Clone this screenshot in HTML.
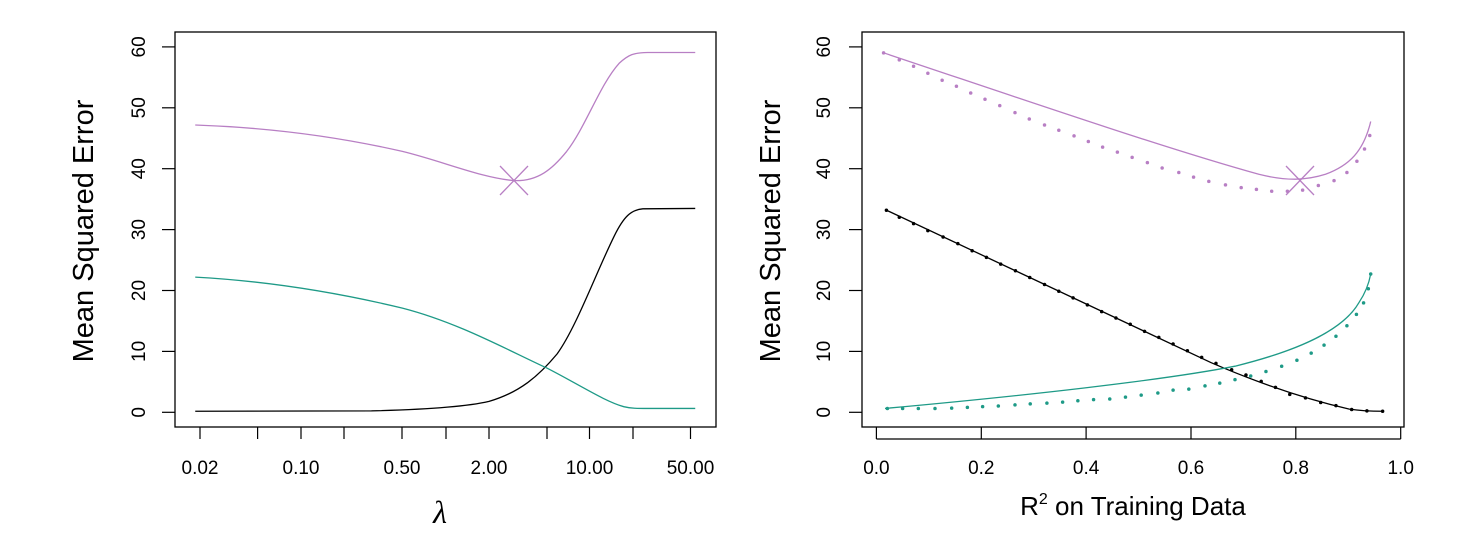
<!DOCTYPE html>
<html><head><meta charset="utf-8"><style>
html,body{margin:0;padding:0;background:#fff}
svg{display:block}
text{font-family:"Liberation Sans",sans-serif;fill:#000}
.t{font-size:19px}
.lab{font-size:29px}
.ns{vector-effect:non-scaling-stroke;fill:none;stroke-linejoin:round}
</style></head><body>
<svg width="1470" height="553" viewBox="0 0 1470 553">
<!-- LEFT PANEL -->
<rect x="175" y="32" width="541" height="395" fill="none" stroke="#000" stroke-width="1.3"/>
<g stroke="#000" stroke-width="1.2">
<line x1="162" y1="412.3" x2="175" y2="412.3"/><line x1="162" y1="351.4" x2="175" y2="351.4"/>
<line x1="162" y1="290.5" x2="175" y2="290.5"/><line x1="162" y1="229.6" x2="175" y2="229.6"/>
<line x1="162" y1="168.7" x2="175" y2="168.7"/><line x1="162" y1="107.8" x2="175" y2="107.8"/>
<line x1="162" y1="46.9" x2="175" y2="46.9"/>
<line x1="200" y1="427" x2="200" y2="439"/><line x1="257.6" y1="427" x2="257.6" y2="439"/>
<line x1="301" y1="427" x2="301" y2="439"/><line x1="344" y1="427" x2="344" y2="439"/>
<line x1="402" y1="427" x2="402" y2="439"/><line x1="446" y1="427" x2="446" y2="439"/>
<line x1="489" y1="427" x2="489" y2="439"/><line x1="547" y1="427" x2="547" y2="439"/>
<line x1="589.5" y1="427" x2="589.5" y2="439"/><line x1="633" y1="427" x2="633" y2="439"/>
<line x1="690.5" y1="427" x2="690.5" y2="439"/>
</g>
<g class="t" text-anchor="middle">
<text transform="translate(145,412.3) rotate(-90)">0</text>
<text transform="translate(145,351.4) rotate(-90)">10</text>
<text transform="translate(145,290.5) rotate(-90)">20</text>
<text transform="translate(145,229.6) rotate(-90)">30</text>
<text transform="translate(145,168.7) rotate(-90)">40</text>
<text transform="translate(145,107.8) rotate(-90)">50</text>
<text transform="translate(145,46.9) rotate(-90)">60</text>
<text x="200" y="474">0.02</text><text x="301" y="474">0.10</text>
<text x="402" y="474">0.50</text><text x="489" y="474">2.00</text>
<text x="589.5" y="474">10.00</text><text x="690.5" y="474">50.00</text>
</g>
<text class="lab" text-anchor="middle" transform="translate(93,231) rotate(-90)">Mean Squared Error</text>
<text x="440" y="523" text-anchor="middle" style="font-family:'Liberation Serif',serif;font-style:italic;font-size:32px">λ</text>
<g transform="scale(0.47619,0.35211)">
<path class="ns" stroke="#b87fc4" stroke-width="1.3" d="M410,355 C560,362 700,385 845,430 C930,458 1010,505 1080,513 C1130,515 1160,480 1190,430 C1230,360 1260,240 1300,180 C1320,155 1330,150 1360,149 L1460,149"/>
<path class="ns" stroke="#000" stroke-width="1.3" d="M410,1168 L780,1167 C900,1163 980,1155 1027,1140 C1090,1115 1130,1070 1170,1005 C1210,930 1250,780 1290,670 C1310,615 1325,596 1350,593 L1460,592"/>
<path class="ns" stroke="#1e9a87" stroke-width="1.3" d="M410,787 C560,798 700,828 845,875 C960,915 1060,990 1148,1045 C1220,1095 1270,1140 1310,1155 C1325,1160 1340,1160 1360,1160 L1460,1160"/>
</g>
<g stroke="#b87fc4" stroke-width="1.3"><line x1="500" y1="166" x2="528" y2="195"/><line x1="500" y1="195" x2="528" y2="166"/></g>

<!-- RIGHT PANEL -->
<rect x="862" y="32" width="542" height="395" fill="none" stroke="#000" stroke-width="1.3"/>
<g stroke="#000" stroke-width="1.2">
<line x1="849" y1="412.3" x2="862" y2="412.3"/><line x1="849" y1="351.4" x2="862" y2="351.4"/>
<line x1="849" y1="290.5" x2="862" y2="290.5"/><line x1="849" y1="229.6" x2="862" y2="229.6"/>
<line x1="849" y1="168.7" x2="862" y2="168.7"/><line x1="849" y1="107.8" x2="862" y2="107.8"/>
<line x1="849" y1="46.9" x2="862" y2="46.9"/>
<line x1="876.4" y1="439" x2="1400.7" y2="439"/>
<line x1="876.4" y1="427" x2="876.4" y2="439"/><line x1="981.3" y1="427" x2="981.3" y2="439"/>
<line x1="1086.1" y1="427" x2="1086.1" y2="439"/><line x1="1191" y1="427" x2="1191" y2="439"/>
<line x1="1295.8" y1="427" x2="1295.8" y2="439"/><line x1="1400.7" y1="427" x2="1400.7" y2="439"/>
</g>
<g class="t" text-anchor="middle">
<text transform="translate(830,412.3) rotate(-90)">0</text>
<text transform="translate(830,351.4) rotate(-90)">10</text>
<text transform="translate(830,290.5) rotate(-90)">20</text>
<text transform="translate(830,229.6) rotate(-90)">30</text>
<text transform="translate(830,168.7) rotate(-90)">40</text>
<text transform="translate(830,107.8) rotate(-90)">50</text>
<text transform="translate(830,46.9) rotate(-90)">60</text>
<text x="876.4" y="474">0.0</text><text x="981.3" y="474">0.2</text>
<text x="1086.1" y="474">0.4</text><text x="1191" y="474">0.6</text>
<text x="1295.8" y="474">0.8</text><text x="1400.7" y="474">1.0</text>
</g>
<text class="lab" text-anchor="middle" transform="translate(780,231) rotate(-90)">Mean Squared Error</text>
<text x="1133" y="515" text-anchor="middle" style="font-size:26px">R<tspan dy="-11" font-size="16">2</tspan><tspan dy="11"> on Training Data</tspan></text>
<g transform="translate(735,0) scale(0.47619,0.35211)">
<path class="ns" stroke="#b87fc4" stroke-width="1.3" d="M312,150 C600,280 900,420 1100,495 C1160,515 1200,512 1240,495 C1290,470 1320,430 1335,345"/>
<path class="ns" stroke="#000" stroke-width="1.3" d="M315,595 L1000,1030 C1120,1100 1220,1140 1290,1162 C1320,1168 1340,1168 1360,1168"/>
<path class="ns" stroke="#1e9a87" stroke-width="1.3" d="M315,1160 C600,1125 900,1080 1050,1040 C1200,990 1280,930 1310,860 C1325,830 1332,800 1335,778"/>
<path class="ns" stroke="#b87fc4" stroke-width="3.5" stroke-linecap="round" d="M312,150h0M345,170h0M375,188h0M405,208h0M435,228h0M465,245h0M495,264h0M525,282h0M556,300h0M588,320h0M618,338h0M650,355h0M680,370h0M712,386h0M742,402h0M772,418h0M803,432h0M834,447h0M866,462h0M897,477h0M932,490h0M963,503h0M995,515h0M1030,525h0M1063,533h0M1095,538h0M1127,543h0M1160,543h0M1192,540h0M1225,527h0M1258,513h0M1285,490h0M1306,458h0M1322,423h0M1333,385h0"/>
<path class="ns" stroke="#000" stroke-width="3.5" stroke-linecap="round" d="M318,597h0M345,617h0M375,635h0M405,655h0M437,673h0M468,692h0M498,712h0M528,731h0M558,750h0M589,769h0M619,788h0M650,808h0M680,827h0M710,846h0M740,866h0M770,885h0M800,903h0M830,921h0M860,941h0M890,958h0M920,977h0M950,996h0M980,1015h0M1010,1032h0M1043,1050h0M1073,1065h0M1105,1083h0M1135,1100h0M1165,1120h0M1198,1130h0M1230,1143h0M1262,1152h0M1295,1163h0M1327,1167h0M1360,1168h0"/>
<path class="ns" stroke="#1e9a87" stroke-width="3.5" stroke-linecap="round" d="M320,1160h0M352,1160h0M385,1160h0M420,1160h0M455,1159h0M488,1157h0M520,1155h0M553,1153h0M588,1150h0M620,1147h0M655,1145h0M688,1142h0M720,1138h0M753,1135h0M787,1133h0M820,1128h0M853,1122h0M888,1116h0M920,1108h0M953,1105h0M987,1096h0M1018,1088h0M1050,1078h0M1083,1068h0M1115,1055h0M1148,1040h0M1180,1023h0M1210,1003h0M1237,980h0M1262,955h0M1285,925h0M1305,893h0M1320,860h0M1330,820h0M1335,778h0"/>
</g>
<g stroke="#b87fc4" stroke-width="1.3"><line x1="1286" y1="166" x2="1314" y2="195"/><line x1="1286" y1="195" x2="1314" y2="166"/></g>
</svg>
</body></html>
